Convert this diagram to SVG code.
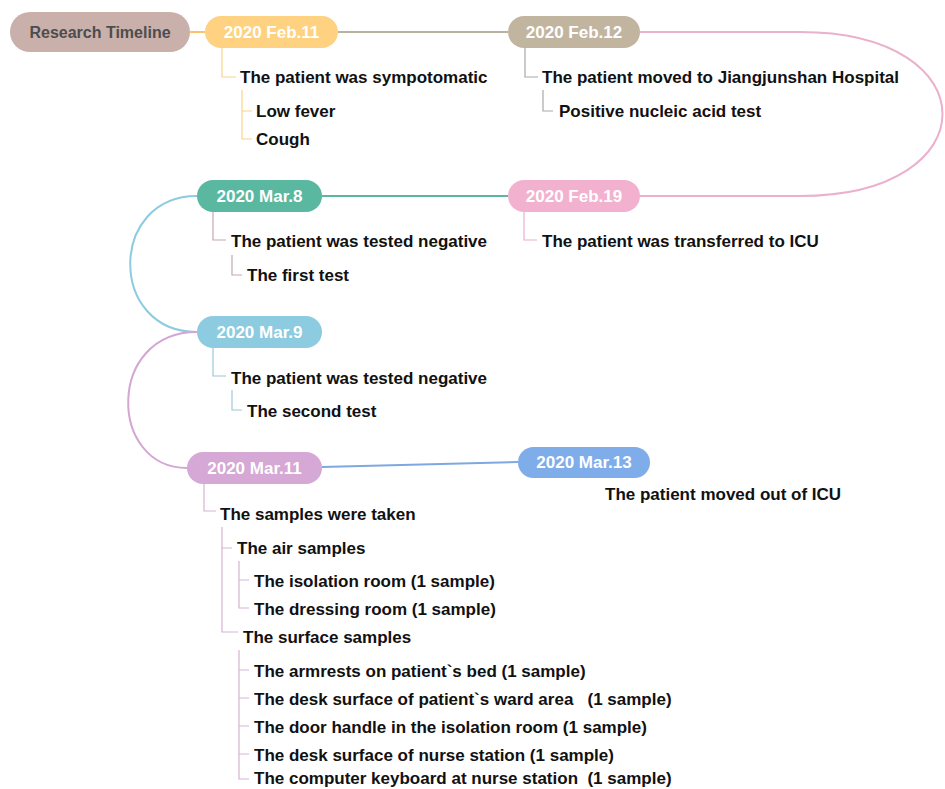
<svg xmlns="http://www.w3.org/2000/svg" width="945" height="789" viewBox="0 0 945 789">
<style>
.t{font-family:"Liberation Sans",Arial,sans-serif;font-weight:bold;font-size:17px;fill:#111}
.p{font-family:"Liberation Sans",Arial,sans-serif;font-weight:bold;font-size:17px;fill:#fff;text-anchor:middle}
.c{fill:none;stroke-width:2}
.b{fill:none;stroke-width:1.2}
</style>
<rect width="945" height="789" fill="#fff"/>
<g id="connectors">
<line class="c" x1="190" y1="32" x2="205" y2="32" stroke="#f5c46c"/>
<line class="c" x1="338" y1="32" x2="508" y2="32" stroke="#b8b39e"/>
<path class="c" d="M640,32 L800,32 C990,32 990,196 800,196 L640,196" stroke="#eab0cc"/>
<line class="c" x1="508" y1="196" x2="322" y2="196" stroke="#5ab8a1"/>
<path class="c" d="M197,196 C108,196 108,332 197,332" stroke="#8dcbe0"/>
<path class="c" d="M197,332 C106,332 108,468 187,468" stroke="#d3a6d3"/>
<path class="c" d="M322,467 L518,462" stroke="#7fa8e0"/>
<path class="b" d="M222,48 V77 H236 M242,90 V139 H252 M242,111 H252" stroke="#f8d48a"/>
<path class="b" d="M525,48 V77 H538 M543,90 V111 H553" stroke="#a8a8a8"/>
<path class="b" d="M524,212 V240 H537" stroke="#eab0cc"/>
<path class="b" d="M213,212 V240 H226 M232,255 V275 H242" stroke="#c4aab4"/>
<path class="b" d="M213,348 V376 H226 M232,390 V410 H242" stroke="#9cc8d8"/>
<path class="b" d="M204,484 V511 H216 M222,527 V632 H238 M222,548 H232 M239,561 V608 H249 M239,580 H249 M239,650 V779 H249 M239,670 H249 M239,698 H249 M239,726 H249 M239,754 H249" stroke="#d6b4d2"/>
</g>
<g id="research-timeline">
<rect x="10" y="12" width="180" height="40" rx="20" fill="#c9b0aa"/>
<text x="100" y="38" text-anchor="middle" style="font-family:'Liberation Sans',Arial,sans-serif;font-weight:bold;font-size:16px;fill:#4d4d4d">Research Timeline</text>
</g>
<g id="feb11">
<rect x="205" y="16" width="133" height="32" rx="16" fill="#fed280"/>
<text class="p" x="271.5" y="38">2020 Feb.11</text>
<text class="t" x="240" y="83">The patient was sympotomatic</text>
<text class="t" x="256" y="117">Low fever</text>
<text class="t" x="256" y="145">Cough</text>
</g>
<g id="feb12">
<rect x="508" y="16" width="132" height="32" rx="16" fill="#c1b5a0"/>
<text class="p" x="574" y="38">2020 Feb.12</text>
<text class="t" x="542" y="83">The patient moved to Jiangjunshan Hospital</text>
<text class="t" x="559" y="117">Positive nucleic acid test</text>
</g>
<g id="feb19">
<rect x="508" y="180" width="132" height="32" rx="16" fill="#f2b2cf"/>
<text class="p" x="574" y="202">2020 Feb.19</text>
<text class="t" x="542" y="247">The patient was transferred to ICU</text>
</g>
<g id="mar8">
<rect x="197" y="180" width="125" height="32" rx="16" fill="#5ab8a1"/>
<text class="p" x="259.5" y="202">2020 Mar.8</text>
<text class="t" x="231" y="247">The patient was tested negative</text>
<text class="t" x="247" y="281">The first test</text>
</g>
<g id="mar9">
<rect x="197" y="316" width="125" height="32" rx="16" fill="#8dcbe0"/>
<text class="p" x="259.5" y="338">2020 Mar.9</text>
<text class="t" x="231" y="384">The patient was tested negative</text>
<text class="t" x="247" y="417">The second test</text>
</g>
<g id="mar11">
<rect x="187" y="452" width="135" height="32" rx="16" fill="#d6a8d5"/>
<text class="p" x="254.5" y="474">2020 Mar.11</text>
<text class="t" x="220" y="520">The samples were taken</text>
<text class="t" x="237" y="554">The air samples</text>
<text class="t" x="254" y="587">The isolation room (1 sample)</text>
<text class="t" x="254" y="615">The dressing room (1 sample)</text>
<text class="t" x="243" y="643">The surface samples</text>
<text class="t" x="254" y="677">The armrests on patient`s bed (1 sample)</text>
<text class="t" x="254" y="705" xml:space="preserve">The desk surface of patient`s ward area   (1 sample)</text>
<text class="t" x="254" y="733">The door handle in the isolation room (1 sample)</text>
<text class="t" x="254" y="761">The desk surface of nurse station (1 sample)</text>
<text class="t" x="254" y="784" xml:space="preserve">The computer keyboard at nurse station  (1 sample)</text>
</g>
<g id="mar13">
<rect x="518" y="447" width="132" height="31" rx="15.5" fill="#7fadea"/>
<text class="p" x="584" y="468">2020 Mar.13</text>
<text class="t" x="605" y="500">The patient moved out of ICU</text>
</g>
</svg>
